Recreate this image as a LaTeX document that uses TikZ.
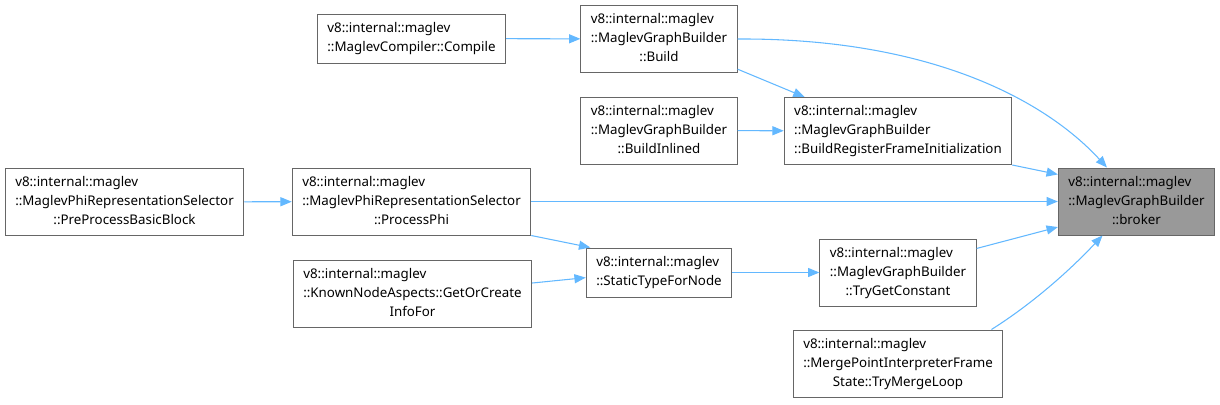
\documentclass[tikz,border=0pt]{standalone}
\usepackage{fontspec}
\setmainfont{Noto Sans}
\usepackage{xcolor}
\usetikzlibrary{arrows.meta,positioning}

\definecolor{edgeblue}{HTML}{63B8FF}
\definecolor{boxgray}{HTML}{666666}
\definecolor{focusgray}{HTML}{999999}

% first lines flush left, last line centred
\newcommand{\fnlabel}[2]{\begin{tabular}{@{}l@{}}#1\\\multicolumn{1}{@{}c@{}}{#2}\end{tabular}}

\begin{document}
\begin{tikzpicture}[
    x=0.75pt, y=-0.75pt,
    fn/.style={draw=boxgray, line width=0.75pt, fill=white, inner xsep=7.5pt,
      inner ysep=0pt, font=\fontsize{10}{14.25}\selectfont},
    fnthree/.style={fn, minimum height=50.25pt},
    fntwo/.style={fn, minimum height=36.75pt},
    focus/.style={fill=focusgray},
    arrow/.style={-{Triangle[length=8.5pt,width=6.8pt]}, draw=edgeblue,
      line width=0.8pt}
  ]
    \useasboundingbox (0,0) rectangle (1220,404);

    \node[fntwo] (compile) at (411.5,38.5) {\fnlabel{v8::internal::maglev}{::MaglevCompiler::Compile}};
    \node[fnthree] (build) at (659,39) {\fnlabel{v8::internal::maglev\\::MaglevGraphBuilder}{::Build}};
    \node[fnthree] (inlined) at (659,130.5) {\fnlabel{v8::internal::maglev\\::MaglevGraphBuilder}{::BuildInlined}};
    \node[fnthree] (regframe) at (898,131) {\fnlabel{v8::internal::maglev\\::MaglevGraphBuilder}{::BuildRegisterFrameInitialization}};
    \node[fnthree, focus] (broker) at (1136.5,201.5) {\fnlabel{v8::internal::maglev\\::MaglevGraphBuilder}{::broker}};

    \node[fnthree] (preblock) at (124.5,202) {\fnlabel{v8::internal::maglev\\::MaglevPhiRepresentationSelector}{::PreProcessBasicBlock}};
    \node[fnthree] (phi) at (411.5,201.5) {\fnlabel{v8::internal::maglev\\::MaglevPhiRepresentationSelector}{::ProcessPhi}};
    \node[fntwo] (statictype) at (659,272.5) {\fnlabel{v8::internal::maglev}{::StaticTypeForNode}};
    \node[fnthree] (infofor) at (412.5,293.5) {\fnlabel{v8::internal::maglev\\::KnownNodeAspects::GetOrCreate}{InfoFor}};
    \node[fnthree] (constant) at (898,272.5) {\fnlabel{v8::internal::maglev\\::MaglevGraphBuilder}{::TryGetConstant}};
    \node[fnthree] (mergeloop) at (898,363.5) {\fnlabel{v8::internal::maglev\\::MergePointInterpreterFrame}{State::TryMergeLoop}};

    \draw[arrow] (compile) -- (build);
    \draw[arrow] (build.east) .. controls (930,38) and (1045,100) .. (broker.131);
    \draw[arrow] (build.-21) -- (regframe.160);
    \draw[arrow] (inlined) -- (regframe);
    \draw[arrow] (regframe.south east) -- (broker.161);
    \draw[arrow] (preblock) -- (phi);
    \draw[arrow] (phi) -- (broker);
    \draw[arrow] (phi.south east) -- (statictype.160);
    \draw[arrow] (infofor.5) -- (statictype.184);
    \draw[arrow] (statictype) -- (constant);
    \draw[arrow] (constant.17) -- (broker.198);
    \draw[arrow] (mergeloop.20) .. controls (1035,302) and (1072,268) .. (broker.225);
  \end{tikzpicture}
\end{document}
